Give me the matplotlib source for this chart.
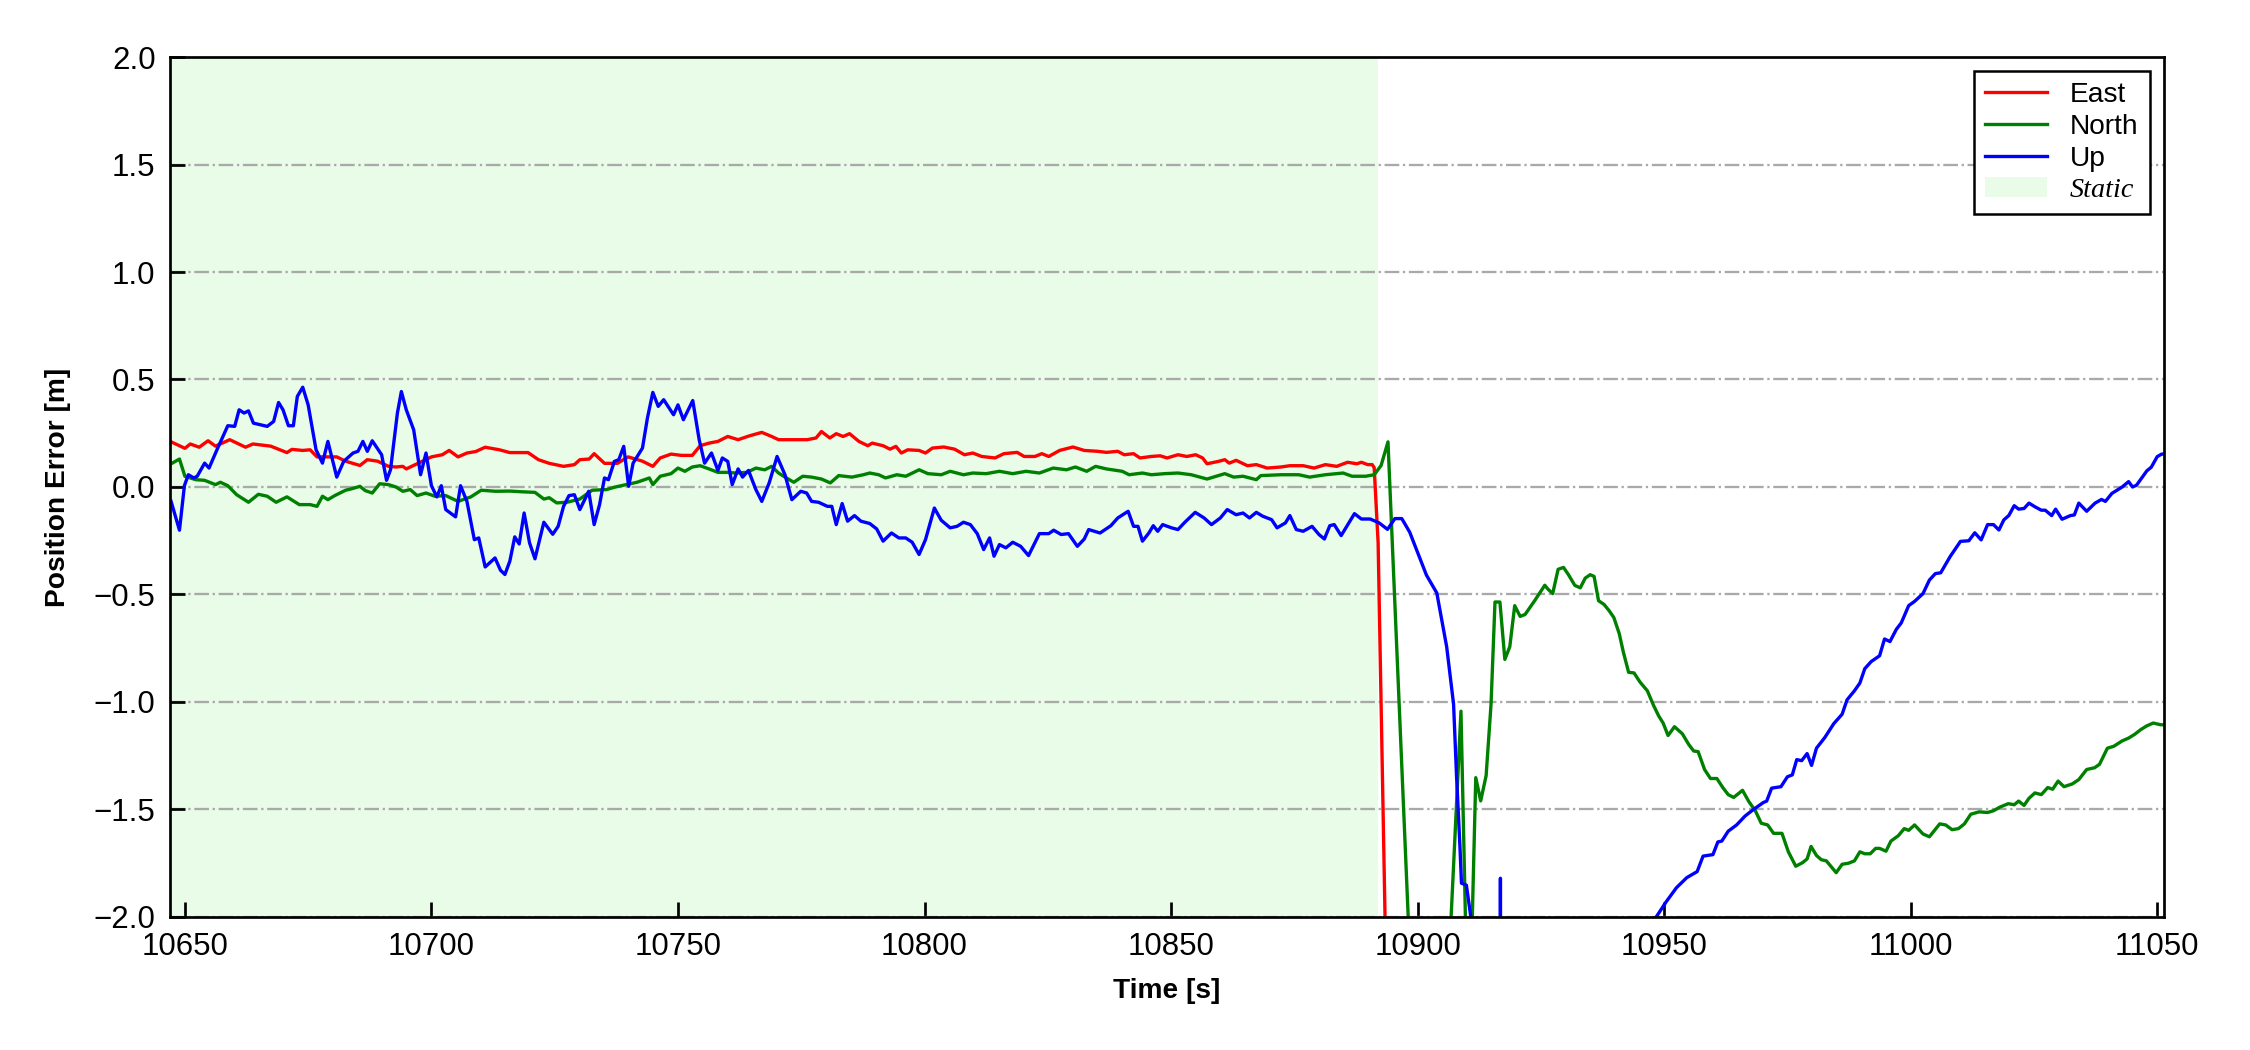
import matplotlib
matplotlib.use("Agg")
import matplotlib.pyplot as plt
import numpy as np

plt.rcParams['font.family'] = ['Liberation Sans', 'DejaVu Sans']

# position error samples: (time [s], error [m])
east = [(10647.2, 0.21), (10650.0, 0.18), (10651.1, 0.20), (10652.9, 0.185), (10654.7, 0.215),
        (10656.2, 0.19), (10659.1, 0.22), (10662.3, 0.185), (10663.8, 0.20), (10667.4, 0.19),
        (10670.7, 0.16), (10671.7, 0.175), (10673.9, 0.17), (10675.4, 0.173), (10676.8, 0.14),
        (10679.0, 0.14), (10680.8, 0.14), (10682.6, 0.12), (10685.5, 0.10), (10687.0, 0.127),
        (10689.1, 0.12), (10691.3, 0.096), (10692.8, 0.093), (10694.2, 0.096), (10694.9, 0.084),
        (10697.1, 0.108), (10700.0, 0.14), (10702.2, 0.15), (10703.6, 0.17), (10705.4, 0.14),
        (10707.2, 0.158), (10709.0, 0.165), (10710.9, 0.185), (10713.8, 0.173), (10715.9, 0.16),
        (10719.6, 0.16), (10721.7, 0.127), (10723.9, 0.11), (10726.8, 0.096), (10729.0, 0.104),
        (10730.1, 0.127), (10732.0, 0.13), (10733.0, 0.155), (10735.1, 0.11), (10737.7, 0.11),
        (10739.9, 0.14), (10742.8, 0.12), (10744.9, 0.096), (10746.4, 0.135), (10748.6, 0.153),
        (10750.7, 0.147), (10752.9, 0.147), (10754.5, 0.192), (10756.3, 0.204), (10758.1, 0.212),
        (10760.1, 0.235), (10762.2, 0.22), (10764.5, 0.238), (10767.0, 0.254), (10769.0, 0.235),
        (10770.4, 0.22), (10773.5, 0.22), (10776.2, 0.22), (10778.0, 0.228), (10779.1, 0.258),
        (10780.8, 0.228), (10782.1, 0.248), (10783.5, 0.235), (10784.8, 0.248), (10786.7, 0.212),
        (10788.5, 0.192), (10789.4, 0.204), (10791.6, 0.192), (10793.0, 0.176), (10794.2, 0.189),
        (10795.3, 0.158), (10796.6, 0.173), (10798.9, 0.17), (10800.2, 0.158), (10801.6, 0.181),
        (10803.9, 0.186), (10806.1, 0.176), (10808.1, 0.15), (10809.8, 0.158), (10811.6, 0.142),
        (10814.3, 0.135), (10816.1, 0.155), (10818.8, 0.161), (10820.2, 0.142), (10822.4, 0.142),
        (10823.8, 0.155), (10825.2, 0.142), (10827.4, 0.17), (10830.1, 0.186), (10832.4, 0.17),
        (10835.1, 0.166), (10836.9, 0.161), (10839.2, 0.166), (10840.5, 0.15), (10842.4, 0.155),
        (10843.7, 0.135), (10846.0, 0.142), (10847.8, 0.145), (10849.2, 0.135), (10851.4, 0.15),
        (10853.2, 0.142), (10855.0, 0.15), (10856.4, 0.135), (10857.3, 0.108), (10859.6, 0.119),
        (10860.9, 0.127), (10861.8, 0.111), (10863.2, 0.124), (10865.5, 0.099), (10867.3, 0.104),
        (10869.5, 0.088), (10872.3, 0.093), (10874.1, 0.099), (10876.8, 0.099), (10879.0, 0.088),
        (10881.3, 0.104), (10883.6, 0.096), (10885.8, 0.115), (10887.7, 0.108), (10888.6, 0.115),
        (10889.9, 0.104), (10890.8, 0.104), (10891.2, 0.09), (10892.0, -0.26), (10893.4, -2.0),
        (10894.5, -2.8)]

north = [(10647.2, 0.108), (10648.9, 0.13), (10650.0, 0.05), (10652.2, 0.034), (10654.0, 0.031),
         (10656.2, 0.011), (10657.2, 0.022), (10658.7, 0.006), (10660.5, -0.036), (10662.9, -0.071),
         (10664.9, -0.034), (10666.7, -0.043), (10668.5, -0.071), (10670.7, -0.046), (10673.2, -0.082),
         (10675.4, -0.082), (10676.8, -0.09), (10677.9, -0.043), (10679.0, -0.059), (10680.4, -0.04),
         (10682.6, -0.015), (10683.7, -0.009), (10685.5, 0.003), (10686.6, -0.017), (10688.0, -0.028),
         (10689.5, 0.015), (10691.3, 0.011), (10692.8, 0.0), (10694.2, -0.02), (10695.7, -0.012),
         (10697.1, -0.04), (10698.9, -0.028), (10700.7, -0.043), (10702.9, -0.04), (10705.4, -0.067),
         (10708.0, -0.046), (10710.1, -0.015), (10713.0, -0.02), (10715.9, -0.019), (10718.1, -0.022),
         (10721.0, -0.025), (10722.8, -0.056), (10723.9, -0.05), (10725.4, -0.074), (10727.5, -0.071),
         (10730.1, -0.056), (10732.6, -0.015), (10735.5, -0.012), (10737.3, 0.0), (10739.5, 0.011),
         (10741.7, 0.022), (10744.2, 0.042), (10744.9, 0.011), (10746.4, 0.05), (10748.6, 0.062),
         (10750.0, 0.088), (10751.4, 0.073), (10752.9, 0.093), (10754.5, 0.099), (10756.3, 0.084),
         (10758.1, 0.068), (10759.9, 0.068), (10761.7, 0.065), (10764.0, 0.068), (10765.8, 0.088),
         (10767.6, 0.08), (10769.0, 0.096), (10770.4, 0.065), (10771.7, 0.046), (10773.5, 0.022),
         (10775.3, 0.05), (10777.1, 0.046), (10779.1, 0.037), (10780.9, 0.019), (10782.6, 0.053),
         (10785.3, 0.046), (10787.6, 0.057), (10788.9, 0.065), (10790.7, 0.057), (10792.1, 0.042),
         (10794.4, 0.057), (10796.2, 0.05), (10798.9, 0.08), (10800.7, 0.062), (10803.4, 0.057),
         (10805.2, 0.073), (10807.9, 0.057), (10809.8, 0.065), (10812.5, 0.062), (10815.2, 0.073),
         (10817.9, 0.062), (10820.6, 0.073), (10823.3, 0.065), (10826.1, 0.088), (10828.8, 0.08),
         (10830.6, 0.093), (10832.9, 0.073), (10834.7, 0.096), (10836.9, 0.084), (10840.1, 0.073),
         (10841.5, 0.057), (10844.2, 0.065), (10846.0, 0.057), (10848.7, 0.062), (10851.4, 0.065),
         (10854.1, 0.057), (10857.3, 0.037), (10859.6, 0.053), (10860.9, 0.062), (10862.7, 0.046),
         (10864.6, 0.05), (10867.3, 0.034), (10868.2, 0.053), (10872.3, 0.057), (10875.9, 0.057),
         (10878.1, 0.046), (10881.3, 0.057), (10884.9, 0.065), (10886.7, 0.05), (10889.5, 0.05),
         (10891.2, 0.057), (10892.6, 0.10), (10894.0, 0.21), (10898.1, -2.0), (10900.0, -2.3),
         (10906.3, -2.3), (10906.8, -2.0), (10908.8, -1.043), (10909.7, -2.0), (10910.3, -2.3),
         (10911.1, -2.0), (10911.8, -1.352), (10912.8, -1.46), (10913.9, -1.343), (10914.9, -1.01),
         (10915.7, -0.535), (10916.7, -0.535), (10917.7, -0.802), (10918.7, -0.743), (10919.7, -0.552),
         (10920.8, -0.602), (10921.8, -0.593), (10923.8, -0.527), (10925.8, -0.457), (10926.4, -0.474),
         (10927.4, -0.496), (10928.5, -0.383), (10929.6, -0.374), (10930.6, -0.408), (10931.9, -0.458),
         (10933.0, -0.469), (10934.0, -0.424), (10935.0, -0.408), (10935.8, -0.416), (10936.7, -0.529),
         (10937.8, -0.546), (10938.8, -0.574), (10939.8, -0.607), (10940.9, -0.682), (10941.7, -0.765),
         (10942.8, -0.862), (10943.9, -0.865), (10945.1, -0.907), (10946.6, -0.948), (10947.9, -1.018),
         (10948.9, -1.065), (10949.8, -1.098), (10950.8, -1.156), (10952.1, -1.115), (10953.7, -1.148),
         (10955.0, -1.198), (10956.0, -1.228), (10956.9, -1.231), (10958.2, -1.314), (10959.4, -1.356),
         (10960.7, -1.356), (10961.9, -1.398), (10963.0, -1.431), (10964.1, -1.444), (10965.9, -1.411),
         (10967.2, -1.464), (10968.5, -1.506), (10969.7, -1.564), (10971.0, -1.572), (10972.2, -1.611),
         (10973.9, -1.611), (10975.2, -1.697), (10976.7, -1.764), (10978.1, -1.747), (10979.0, -1.73),
         (10979.8, -1.672), (10980.9, -1.714), (10981.9, -1.734), (10982.9, -1.739), (10984.9, -1.794),
         (10986.1, -1.755), (10987.4, -1.75), (10988.6, -1.739), (10989.7, -1.697), (10990.7, -1.706),
         (10991.8, -1.706), (10992.9, -1.681), (10993.7, -1.681), (10995.0, -1.694), (10996.0, -1.647),
         (10997.5, -1.622), (10998.7, -1.589), (10999.6, -1.597), (11000.8, -1.572), (11002.5, -1.614),
         (11003.8, -1.627), (11005.9, -1.567), (11007.1, -1.572), (11008.4, -1.594), (11009.7, -1.589),
         (11010.9, -1.567), (11012.2, -1.522), (11013.9, -1.511), (11015.6, -1.514), (11016.8, -1.506),
         (11018.1, -1.489), (11019.8, -1.473), (11021.0, -1.478), (11021.9, -1.461), (11023.0, -1.481),
         (11024.0, -1.448), (11025.2, -1.423), (11026.5, -1.431), (11027.8, -1.398), (11028.8, -1.406),
         (11029.9, -1.368), (11031.1, -1.394), (11032.8, -1.381), (11034.1, -1.361), (11035.7, -1.314),
         (11037.3, -1.306), (11038.3, -1.29), (11039.9, -1.215), (11041.2, -1.206), (11042.9, -1.181),
         (11044.2, -1.168), (11045.4, -1.151), (11046.7, -1.128), (11047.9, -1.111), (11049.2, -1.098),
         (11050.7, -1.106), (11051.3, -1.106)]

up = [(10647.2, -0.067), (10648.9, -0.201), (10649.9, 0.006), (10650.7, 0.057), (10651.8, 0.042),
      (10652.5, 0.05), (10654.0, 0.111), (10654.9, 0.088), (10656.5, 0.173), (10658.7, 0.285),
      (10660.1, 0.282), (10661.0, 0.359), (10662.0, 0.344), (10662.9, 0.354), (10663.9, 0.297),
      (10666.7, 0.282), (10668.0, 0.305), (10669.0, 0.393), (10669.9, 0.359), (10671.0, 0.285),
      (10672.0, 0.285), (10672.8, 0.421), (10673.9, 0.464), (10675.0, 0.382), (10676.6, 0.173),
      (10677.9, 0.111), (10679.0, 0.212), (10680.8, 0.046), (10682.2, 0.119), (10684.1, 0.158),
      (10685.1, 0.166), (10686.1, 0.212), (10687.0, 0.166), (10688.0, 0.215), (10689.9, 0.15),
      (10690.9, 0.031), (10691.7, 0.08), (10693.1, 0.344), (10693.9, 0.444), (10694.9, 0.359),
      (10696.4, 0.266), (10697.8, 0.057), (10698.9, 0.158), (10700.0, 0.006), (10701.1, -0.046),
      (10702.0, 0.006), (10702.9, -0.105), (10704.9, -0.139), (10705.9, 0.006), (10707.2, -0.067),
      (10708.7, -0.245), (10709.6, -0.237), (10710.9, -0.372), (10712.9, -0.33), (10714.0, -0.387),
      (10714.9, -0.407), (10715.9, -0.345), (10716.9, -0.232), (10717.8, -0.265), (10718.8, -0.121),
      (10719.9, -0.26), (10721.0, -0.334), (10722.8, -0.164), (10724.6, -0.22), (10725.7, -0.183),
      (10726.8, -0.09), (10727.9, -0.04), (10729.0, -0.036), (10730.1, -0.105), (10731.9, -0.02),
      (10733.0, -0.175), (10734.1, -0.082), (10735.1, 0.042), (10735.9, 0.034), (10737.1, 0.119),
      (10738.0, 0.127), (10739.0, 0.189), (10740.0, 0.003), (10740.9, 0.111), (10742.8, 0.181),
      (10743.8, 0.32), (10744.9, 0.44), (10746.0, 0.375), (10747.1, 0.406), (10749.1, 0.336),
      (10750.0, 0.382), (10751.1, 0.313), (10753.0, 0.402), (10754.3, 0.22), (10755.4, 0.111),
      (10756.8, 0.158), (10758.1, 0.077), (10759.0, 0.135), (10760.1, 0.119), (10761.0, 0.011),
      (10762.2, 0.084), (10763.1, 0.046), (10764.3, 0.077), (10765.8, -0.012), (10767.0, -0.067),
      (10768.5, 0.019), (10770.1, 0.142), (10771.7, 0.057), (10773.1, -0.059), (10774.9, -0.02),
      (10776.1, -0.028), (10777.1, -0.067), (10778.5, -0.071), (10780.3, -0.09), (10781.2, -0.09),
      (10782.1, -0.175), (10783.3, -0.077), (10784.4, -0.159), (10785.8, -0.133), (10787.1, -0.159),
      (10788.9, -0.17), (10790.3, -0.195), (10791.6, -0.252), (10793.3, -0.214), (10794.8, -0.237),
      (10796.2, -0.237), (10797.5, -0.257), (10798.9, -0.314), (10800.2, -0.245), (10802.0, -0.098),
      (10803.4, -0.155), (10805.2, -0.19), (10806.6, -0.183), (10807.9, -0.164), (10809.3, -0.175),
      (10810.7, -0.217), (10812.0, -0.291), (10813.2, -0.237), (10814.1, -0.322), (10815.2, -0.268),
      (10816.5, -0.283), (10817.9, -0.257), (10819.5, -0.276), (10821.1, -0.319), (10823.3, -0.217),
      (10825.2, -0.217), (10826.2, -0.201), (10827.7, -0.221), (10829.2, -0.217), (10831.0, -0.276),
      (10832.4, -0.242), (10833.3, -0.198), (10835.6, -0.214), (10837.8, -0.18), (10839.2, -0.144),
      (10841.3, -0.113), (10842.4, -0.183), (10843.3, -0.183), (10844.2, -0.252), (10845.5, -0.214),
      (10846.4, -0.18), (10847.3, -0.206), (10848.3, -0.175), (10850.1, -0.19), (10851.4, -0.198),
      (10852.8, -0.164), (10854.9, -0.118), (10856.7, -0.144), (10858.2, -0.175), (10860.0, -0.144),
      (10861.4, -0.105), (10863.2, -0.129), (10864.6, -0.121), (10865.9, -0.144), (10867.3, -0.118),
      (10868.6, -0.136), (10870.4, -0.152), (10871.5, -0.19), (10873.2, -0.167), (10874.1, -0.133),
      (10875.4, -0.198), (10876.8, -0.206), (10878.6, -0.183), (10880.0, -0.221), (10881.1, -0.242),
      (10882.2, -0.18), (10883.1, -0.175), (10884.5, -0.226), (10887.2, -0.124), (10888.6, -0.149),
      (10890.4, -0.149), (10892.2, -0.167), (10893.9, -0.197), (10895.4, -0.147), (10896.8, -0.147),
      (10898.4, -0.21), (10900.1, -0.31), (10901.8, -0.41), (10903.9, -0.493), (10905.9, -0.743),
      (10907.3, -1.01), (10907.9, -1.343), (10908.6, -1.677), (10908.9, -1.843), (10909.9, -1.852),
      (10910.8, -2.0), (10911.8, -2.4), (10916.6, -6.0), (10916.8, -1.82), (10917.0, -6.0),
      (10930.0, -2.6), (10948.4, -2.0), (10950.4, -1.93), (10952.5, -1.864), (10954.6, -1.817),
      (10956.7, -1.789), (10957.9, -1.717), (10959.9, -1.71), (10960.9, -1.651), (10961.7, -1.647),
      (10963.0, -1.601), (10964.7, -1.572), (10966.4, -1.531), (10968.0, -1.502), (10970.1, -1.468),
      (10970.8, -1.461), (10971.8, -1.401), (10973.7, -1.394), (10975.0, -1.348), (10976.0, -1.339),
      (10976.9, -1.268), (10977.9, -1.273), (10979.0, -1.24), (10979.9, -1.295), (10980.9, -1.215),
      (10982.6, -1.165), (10984.4, -1.101), (10986.1, -1.057), (10987.1, -0.99), (10988.6, -0.948),
      (10989.7, -0.912), (10990.7, -0.845), (10992.0, -0.812), (10993.7, -0.785), (10994.7, -0.707),
      (10995.8, -0.719), (10997.1, -0.662), (10998.1, -0.632), (10999.6, -0.552), (11000.8, -0.532),
      (11002.5, -0.496), (11003.8, -0.433), (11005.0, -0.403), (11006.1, -0.399), (11008.0, -0.324),
      (11010.1, -0.253), (11011.8, -0.25), (11013.0, -0.213), (11014.3, -0.246), (11015.6, -0.175),
      (11016.8, -0.175), (11017.9, -0.2), (11018.9, -0.153), (11019.9, -0.133), (11021.0, -0.087),
      (11021.9, -0.103), (11023.0, -0.1), (11024.0, -0.075), (11025.2, -0.092), (11026.5, -0.108),
      (11027.3, -0.108), (11028.6, -0.133), (11029.4, -0.103), (11030.7, -0.15), (11032.4, -0.133),
      (11033.2, -0.13), (11034.1, -0.075), (11035.7, -0.113), (11037.4, -0.075), (11038.7, -0.058),
      (11039.5, -0.067), (11040.8, -0.03), (11042.9, 0.0), (11044.2, 0.025), (11045.0, 0.0),
      (11045.8, 0.008), (11047.9, 0.075), (11048.8, 0.092), (11050.0, 0.141), (11050.9, 0.153),
      (11051.3, 0.153)]

static_start, static_end = 10647.0, 10892.0
x_ticks = [10650, 10700, 10750, 10800, 10850, 10900, 10950, 11000, 11050]
y_ticks = [-2.0, -1.5, -1.0, -0.5, 0.0, 0.5, 1.0, 1.5, 2.0]

fig = plt.figure(figsize=(15, 7), dpi=150)
ax = fig.add_axes([0.0756, 0.1267, 0.886, 0.819])

ax.axvspan(static_start, static_end, color='#e8fce8', lw=0, label='Static')
for data, col, name in [(east, 'red', 'East'), (north, 'green', 'North'), (up, 'blue', 'Up')]:
    t, v = np.array(data).T
    ax.plot(t, v, color=col, lw=1.6, label=name)

ax.set_xlim(10647, 11051.3)
ax.set_ylim(-2.0, 2.0)
ax.set_xticks(x_ticks)
ax.set_yticks(y_ticks)
ax.yaxis.grid(True, linestyle='-.', color='darkgray', linewidth=1.1)

ax.tick_params(direction='in', length=7, width=1.3, labelsize=15, pad=7)
for s in ax.spines.values():
    s.set_linewidth(1.3)

ax.set_xlabel('Time [s]', fontsize=13.5, fontweight='bold', labelpad=8)
ax.set_ylabel('Position Error [m]', fontsize=13.5, fontweight='bold', labelpad=11)

h, l = ax.get_legend_handles_labels()
order = [1, 2, 3, 0]
leg = ax.legend([h[i] for i in order], [l[i] for i in order], loc='upper right',
                fontsize=13.5, fancybox=False, framealpha=1, edgecolor='black',
                labelspacing=0.2, handlelength=2.2)
leg.get_frame().set_linewidth(1.2)
leg.get_texts()[3].set_fontfamily('Liberation Serif')
leg.get_texts()[3].set_fontstyle('italic')

fig.savefig('out.png', dpi=150)
